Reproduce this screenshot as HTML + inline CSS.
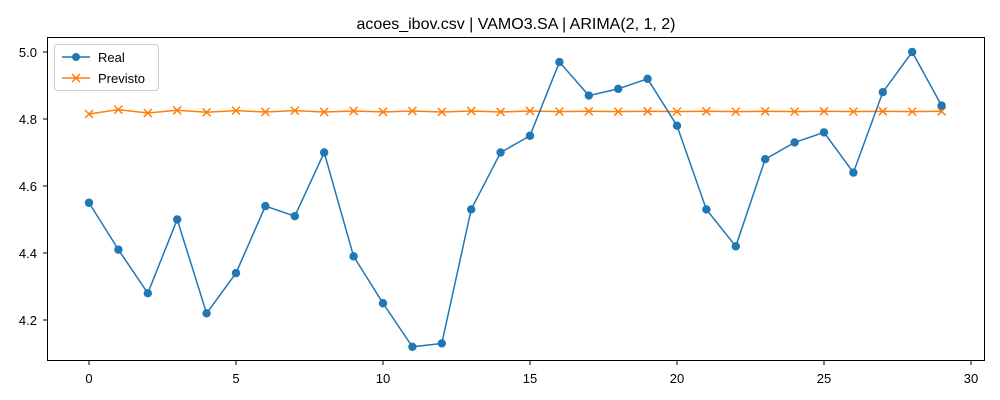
<!DOCTYPE html>
<html><head><meta charset="utf-8">
<style>
html,body{margin:0;padding:0;background:#fff;}
svg{display:block;font-family:"Liberation Sans","DejaVu Sans",sans-serif;}
</style></head>
<body>
<svg id="chart" width="1000" height="400" viewBox="0 0 1000 400">
  <rect x="0" y="0" width="1000" height="400" fill="#fff"/>
  <text x="516" y="29" font-size="16" text-anchor="middle" fill="#000">acoes_ibov.csv | VAMO3.SA | ARIMA(2, 1, 2)</text>
  <g id="xticks"></g>
  <g id="yticks"></g>
  <g id="series"></g>
  <rect x="47.5" y="37.5" width="937" height="323" fill="none" stroke="#000" stroke-width="1"/>
  <g>
    <rect x="54.5" y="44.5" width="104" height="46" rx="3" fill="#fff" fill-opacity="0.8" stroke="#ccc"/>
    <g>
      <line x1="62" y1="57" x2="90" y2="57" stroke="#1f77b4" stroke-width="1.5"/>
      <circle cx="76" cy="57" r="4" fill="#1f77b4"/>
      <text x="98" y="62" font-size="13" fill="#000">Real</text>
    </g>
    <g>
      <line x1="62" y1="78" x2="90" y2="78" stroke="#ff7f0e" stroke-width="1.5"/>
      <path d="M72,74 L80,82 M72,82 L80,74" stroke="#ff7f0e" stroke-width="1.5"/>
      <text x="98" y="83" font-size="13" fill="#000">Previsto</text>
    </g>
  </g>
</svg>
<script>
const realValues = [4.55,4.41,4.28,4.50,4.22,4.34,4.54,4.51,4.70,4.39,4.25,4.12,4.13,4.53,4.70,4.75,4.97,4.87,4.89,4.92,4.78,4.53,4.42,4.68,4.73,4.76,4.64,4.88,5.00,4.84];
const previstoValues = [4.815,4.828,4.818,4.826,4.820,4.825,4.821,4.825,4.821,4.824,4.821,4.824,4.821,4.824,4.821,4.824,4.822,4.823,4.822,4.823,4.822,4.823,4.822,4.823,4.822,4.823,4.822,4.823,4.822,4.823];
const xTickLabels = [0,5,10,15,20,25,30];
const yTickLabels = [4.2,4.4,4.6,4.8,5.0];

const NS = "http://www.w3.org/2000/svg";
function xScale(v){ return 89 + v * (971 - 89) / 30; }
function yScale(v){ return 320 - (v - 4.2) * (320 - 52) / 0.8; }
function mk(tag, attrs, parent){
  const e = document.createElementNS(NS, tag);
  for (const k in attrs) e.setAttribute(k, attrs[k]);
  parent.appendChild(e);
  return e;
}
const xg = document.getElementById('xticks');
xTickLabels.forEach(t => {
  const x = xScale(t);
  const l = mk('line', {x1:x, y1:361, x2:x, y2:365, stroke:'#000'}, xg);
  
  
  const tx = mk('text', {x:x, y:383, 'font-size':13, 'text-anchor':'middle', fill:'#000'}, xg);
  tx.textContent = t;
  
  
});
const yg = document.getElementById('yticks');
yTickLabels.forEach(t => {
  const y = yScale(t);
  const l = mk('line', {x1:43, y1:y, x2:47, y2:y, stroke:'#000'}, yg);
  
  
  const tx = mk('text', {x:37, y:y + 5, 'font-size':13, 'text-anchor':'end', fill:'#000'}, yg);
  tx.textContent = t.toFixed(1);
  
  
});
const sg = document.getElementById('series');
const pPts = previstoValues.map((v,i) => xScale(i) + ',' + yScale(v)).join(' ');
const pl = mk('polyline', {points:pPts, fill:'none', stroke:'#ff7f0e', 'stroke-width':1.5}, sg);


previstoValues.forEach((v,i) => {
  const x = xScale(i), y = yScale(v);
  const m = mk('path', {d:`M${x-4},${y-4} L${x+4},${y+4} M${x-4},${y+4} L${x+4},${y-4}`, stroke:'#ff7f0e', 'stroke-width':1.5}, sg);
  
  
});
const rPts = realValues.map((v,i) => xScale(i) + ',' + yScale(v)).join(' ');
const rl = mk('polyline', {points:rPts, fill:'none', stroke:'#1f77b4', 'stroke-width':1.5}, sg);


realValues.forEach((v,i) => {
  const c = mk('circle', {cx:xScale(i), cy:yScale(v), r:4.2, fill:'#1f77b4'}, sg);
  
  
});
</script>
</body></html>
